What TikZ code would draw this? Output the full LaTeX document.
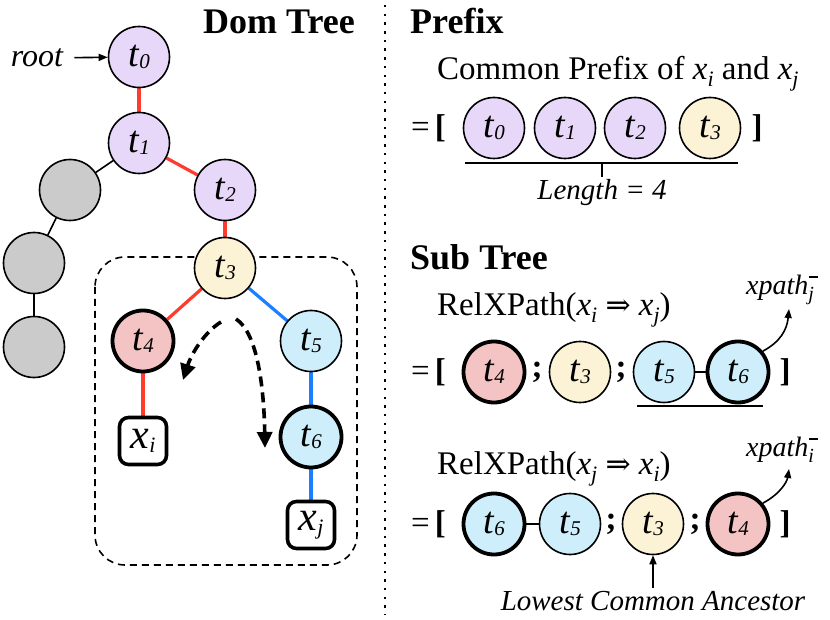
\documentclass[tikz,border=0pt]{standalone}
\usepackage{fontspec}
\setmainfont{Liberation Serif}
\newfontfamily\arrowfont{DejaVu Serif}
\usetikzlibrary{arrows.meta,backgrounds}
\definecolor{lav}{HTML}{E7D7F8}
\definecolor{yel}{HTML}{FCF3D7}
\definecolor{pnk}{HTML}{F4C3C3}
\definecolor{sky}{HTML}{CDEEFA}
\definecolor{gry}{HTML}{CBCBCB}
\definecolor{redE}{HTML}{FF3B30}
\definecolor{bluE}{HTML}{1A80FF}
\newcommand{\tlab}[1]{\textit{t}\raisebox{-2pt}{\fontsize{21}{21}\selectfont\itshape #1}}
\newcommand{\xlab}[1]{\textit{x}\raisebox{-4pt}{\fontsize{22}{22}\selectfont\itshape #1}}
\newcommand{\subt}[1]{\raisebox{-7pt}{\fontsize{22}{22}\selectfont\itshape #1}}
\newcommand{\xpathlab}[1]{\textit{xpath}\rlap{\hspace{1pt}\raisebox{17pt}{\rule{9pt}{1.5pt}}}\raisebox{-6pt}{\fontsize{20}{20}\selectfont\itshape #1}\hspace{4pt}}
\newcommand{\impl}{{\arrowfont\fontsize{30}{30}\selectfont ⇒}}
\begin{document}
\begin{tikzpicture}[x=1pt,y=-1pt,
 tn/.style={circle,draw,line width=1.6pt,minimum size=61pt,inner sep=0pt,font=\fontsize{38}{38}\selectfont},
 heavy/.style={line width=3.8pt},
 leaf/.style={draw,rounded corners=9pt,line width=3.6pt,minimum width=47pt,minimum height=47pt,inner sep=0pt,font=\fontsize{42}{42}\selectfont},
 redge/.style={line width=3.2pt,draw=redE},
 bedge/.style={line width=3.2pt,draw=bluE},
 kedge/.style={line width=1.6pt},
 ttl/.style={anchor=base west,inner sep=0pt,font=\fontsize{36}{40}\selectfont\bfseries},
 txt/.style={anchor=base west,inner sep=0pt,font=\fontsize{33}{36}\selectfont},
 itl/.style={inner sep=0pt,font=\fontsize{29}{32}\selectfont\itshape},
 brk/.style={inner sep=0pt,font=\fontsize{33}{36}\selectfont},
 dasharrow/.style={line width=3.6pt,dash pattern=on 10pt off 6pt,-{Triangle[length=16pt,width=15pt]}},
 thinarrow/.style={line width=1.6pt,-{Triangle[length=9pt,width=7pt]}}
]
\useasboundingbox (0,0) rectangle (830,620);

% ---------- titles ----------
\node[ttl] (ttldom) at (203,34) {Dom Tree};
\node[ttl] (ttlpre) at (410,34) {Prefix};
\node[ttl] (ttlsub) at (410,270) {Sub Tree};

% separator
\coordinate (sepA) at (385,5);
\coordinate (sepB) at (385,615);
\draw[line width=2.2pt,dash pattern=on 2.5pt off 6.2pt] (sepA) -- (sepB);

% ---------- DOM tree ----------
\node[tn,fill=lav] (t0) at (139,57) {\tlab{0}};
\node[tn,fill=lav] (t1) at (139,143) {\tlab{1}};
\node[tn,fill=lav] (t2) at (225,190) {\tlab{2}};
\node[tn,fill=yel] (t3) at (225,268) {\tlab{3}};
\node[tn,fill=gry] (g1) at (70,190) {};
\node[tn,fill=gry] (g2) at (34,263) {};
\node[tn,fill=gry] (g3) at (34,347) {};
\node[tn,heavy,fill=pnk] (t4) at (143,341) {\tlab{4}};
\node[tn,fill=sky] (t5) at (311,341) {\tlab{5}};
\node[tn,heavy,fill=sky] (t6) at (311,437) {\tlab{6}};
\node[leaf,fill=white] (xi) at (143,441) {\xlab{i}};
\node[leaf,fill=white] (xj) at (311,525) {\xlab{j}};

\node[itl,font=\fontsize{32}{34}\selectfont\itshape] (root) at (37,58) {root};
\draw[thinarrow,shorten <=11pt] (root) -- (t0);

\begin{scope}[on background layer]
 \draw[line width=1.6pt,dash pattern=on 7pt off 5pt,rounded corners=30pt] (95,257) rectangle (357,565);
 \draw[redge] (t0) -- (t1);
 \draw[redge] (t1) -- (t2);
 \draw[redge] (t2) -- (t3);
 \draw[redge] (t3) -- (t4);
 \draw[redge] (t4) -- (xi);
 \draw[bedge] (t3) -- (t5);
 \draw[bedge] (t5) -- (t6);
 \draw[bedge] (t6) -- (xj);
 \draw[kedge] (t1) -- (g1);
 \draw[kedge] (g1) -- (g2);
 \draw[kedge] (g2) -- (g3);
\end{scope}

\coordinate (da1) at (221,322);
\coordinate (da2) at (183,380);
\draw[dasharrow] (da1) .. controls (206,331) and (192,352) .. (da2);
\coordinate (db1) at (236,319);
\coordinate (db2) at (265,448);
\draw[dasharrow] (db1) .. controls (258,333) and (264,390) .. (db2);

% ---------- Prefix ----------
\node[txt] (cp) at (437,80) {Common Prefix of \textit{x}\subt{i} and \textit{x}\subt{j}};
\node[brk,anchor=west] (pb1) at (411,128) {=\hspace{5pt}\textbf{[}};
\node[tn,fill=lav] (p0) at (494,128) {\tlab{0}};
\node[tn,fill=lav] (p1) at (565,128) {\tlab{1}};
\node[tn,fill=lav] (p2) at (635,128) {\tlab{2}};
\node[tn,fill=yel] (p3) at (710,128) {\tlab{3}};
\node[brk] (pb2) at (757,128) {\textbf{]}};
\coordinate (plA) at (465,163);
\coordinate (plB) at (738,163);
\coordinate (plM) at (602,163);
\coordinate (plT) at (602,177);
\draw[kedge] (plA) -- (plB);
\draw[kedge] (plM) -- (plT);
\node[itl] (len) at (602,193) {Length = 4};

% ---------- Sub tree row 1 ----------
\node[txt] (rx1) at (437,316) {RelXPath(\textit{x}\subt{i} \impl{} \textit{x}\subt{j})};
\node[brk,anchor=west] (ab1) at (411,372) {=\hspace{5pt}\textbf{[}};
\node[tn,heavy,fill=pnk] (a4) at (494,372) {\tlab{4}};
\node[brk] (as1) at (537,372) {\textbf{;}};
\node[tn,fill=yel] (a3) at (580,372) {\tlab{3}};
\node[brk] (as2) at (621,372) {\textbf{;}};
\node[tn,fill=sky] (a5) at (664,372) {\tlab{5}};
\node[tn,heavy,fill=sky] (a6) at (738,372) {\tlab{6}};
\node[brk] (ab2) at (785,372) {\textbf{]}};
\draw[kedge] (a5) -- (a6);
\coordinate (ulA) at (637,406);
\coordinate (ulB) at (763,406);
\draw[kedge] (ulA) -- (ulB);
\node[inner sep=0pt,font=\fontsize{28}{30}\selectfont] (xpj) at (780,290) {\xpathlab{j}};
\coordinate (xpjA) at (789,309);
\draw[thinarrow] (a6.40) .. controls (780,342) and (787,330) .. (xpjA);

% ---------- Sub tree row 2 ----------
\node[txt] (rx2) at (437,474) {RelXPath(\textit{x}\subt{j} \impl{} \textit{x}\subt{i})};
\node[brk,anchor=west] (bb1) at (411,524) {=\hspace{5pt}\textbf{[}};
\node[tn,heavy,fill=sky] (b6) at (494,524) {\tlab{6}};
\node[tn,fill=sky] (b5) at (570,524) {\tlab{5}};
\node[brk] (bs1) at (611,524) {\textbf{;}};
\node[tn,fill=yel] (b3) at (653,524) {\tlab{3}};
\node[brk] (bs2) at (695,524) {\textbf{;}};
\node[tn,heavy,fill=pnk] (b4) at (738,524) {\tlab{4}};
\node[brk] (bb2) at (785,524) {\textbf{]}};
\draw[kedge] (b6) -- (b5);
\node[inner sep=0pt,font=\fontsize{28}{30}\selectfont] (xpi) at (780,450) {\xpathlab{i}};
\coordinate (xpiA) at (789,469);
\draw[thinarrow] (b4.40) .. controls (780,494) and (787,482) .. (xpiA);
\node[itl] (lca) at (653,601) {Lowest Common Ancestor};
\coordinate (lcaA) at (653,588);
\draw[thinarrow] (lcaA) -- (b3);
\end{tikzpicture}
\end{document}
